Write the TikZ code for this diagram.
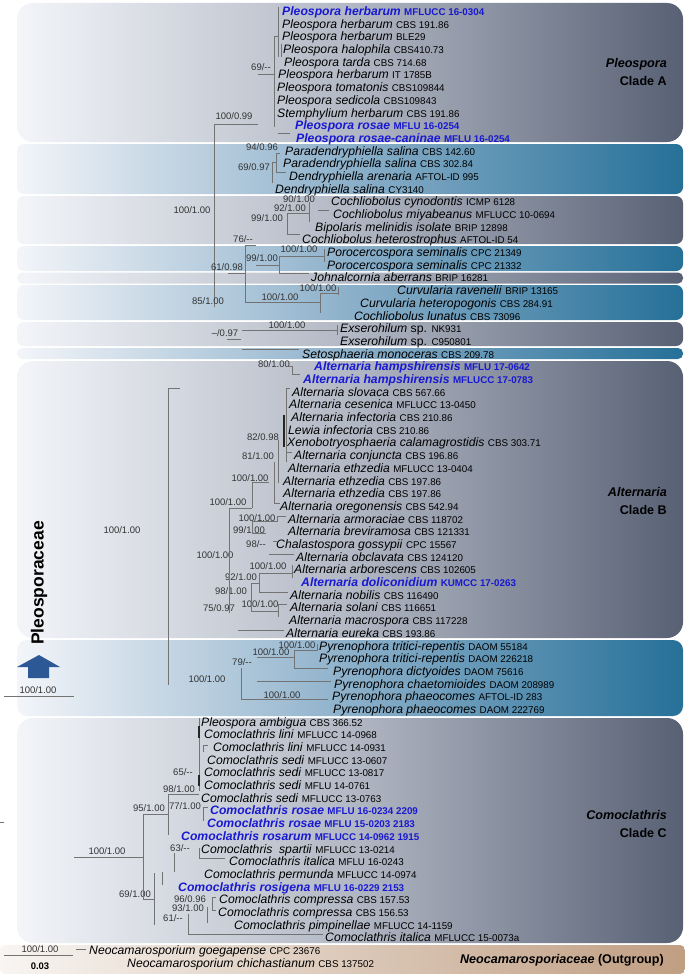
\documentclass[tikz,border=0pt]{standalone}
\usepackage{fontspec}
\setmainfont{Liberation Sans}

\definecolor{boxlight}{RGB}{243,245,249}
\definecolor{graymid}{RGB}{178,184,196}
\definecolor{graydark}{RGB}{88,96,116}
\definecolor{bluemid}{RGB}{140,176,202}
\definecolor{bluedark}{RGB}{38,112,152}
\definecolor{outlight}{RGB}{248,245,242}
\definecolor{outdark}{RGB}{192,158,130}
\definecolor{hilite}{RGB}{25,25,210}
\definecolor{arrowblue}{RGB}{45,88,150}

\newcommand{\codefont}{\fontsize{9.8}{10}\selectfont}
\newcommand{\taxa}[2]{\textit{#1} {\codefont #2}}
\newcommand{\taxab}[2]{{\color{hilite}\bfseries\textit{#1} {\codefont #2}}}

\tikzset{
  taxon/.style={anchor=west, inner sep=0pt, text height=9pt, text depth=0pt,
                font=\fontsize{12.2}{13}\selectfont},
  supp/.style={inner sep=0pt, text height=7pt, text depth=0pt,
               font=\fontsize{9.5}{10}\selectfont, text=black!80},
  cladelab/.style={anchor=east, inner sep=0pt, text height=9pt, text depth=0pt,
                   font=\fontsize{12.6}{13}\selectfont\bfseries},
  branch/.style={draw=black!55, line width=0.8pt},
  darkbranch/.style={draw=black!85, line width=1.1pt},
  gbox/.style={rounded corners=7pt, left color=boxlight, right color=graydark, middle color=graymid},
  bbox/.style={rounded corners=7pt, left color=boxlight, right color=bluedark, middle color=bluemid},
  obox/.style={rounded corners=5pt, left color=outlight, right color=outdark},
}

\begin{document}
\begin{tikzpicture}[x=1pt,y=-1pt]
\def\rh{12.69} % row height
\def\ro{11} % y of first row

\fill[white] (0,0) rectangle (685,974);
\useasboundingbox (0,0) rectangle (685,974);

% clade backgrounds
\path[gbox, rounded corners=16pt] (17,3) rectangle (683,142);
\path[bbox] (17,144) rectangle (683,194);
\path[gbox] (17,196) rectangle (683,244);
\path[bbox] (17,246) rectangle (683,271);
\path[gbox, rounded corners=5pt] (17,272.5) rectangle (683,283.5);
\path[bbox] (17,285) rectangle (683,320);
\path[gbox] (17,322) rectangle (683,346);
\path[bbox, rounded corners=5pt] (17,348) rectangle (683,359);
\path[gbox, rounded corners=16pt] (17,361) rectangle (683,638);
\path[bbox, rounded corners=10pt] (17,640) rectangle (683,716);
\path[gbox, rounded corners=16pt] (17,718) rectangle (683,943);
\path[obox] (0,945) rectangle (685,974);

% Pleospora, clade A
\node[taxon] (t0) at (282,{\ro+0*\rh}) {\taxab{Pleospora herbarum}{MFLUCC 16-0304}};
\node[taxon] (t1) at (282,{\ro+1*\rh}) {\taxa{Pleospora herbarum}{CBS 191.86}};
\node[taxon] (t2) at (282,{\ro+2*\rh}) {\taxa{Pleospora herbarum}{BLE29}};
\node[taxon] (t3) at (283,{\ro+3*\rh}) {\taxa{Pleospora halophila}{CBS410.73}};
\node[taxon] (t4) at (284,{\ro+4*\rh}) {\taxa{Pleospora tarda}{CBS 714.68}};
\node[taxon] (t5) at (278,{\ro+5*\rh}) {\taxa{Pleospora herbarum}{IT 1785B}};
\node[taxon] (t6) at (277,{\ro+6*\rh}) {\taxa{Pleospora tomatonis}{CBS109844}};
\node[taxon] (t7) at (277,{\ro+7*\rh}) {\taxa{Pleospora sedicola}{CBS109843}};
\node[taxon] (t8) at (277,{\ro+8*\rh}) {\taxa{Stemphylium herbarum}{CBS 191.86}};
\node[taxon] (t9) at (295,{\ro+9*\rh}) {\taxab{Pleospora rosae}{MFLU 16-0254}};
\node[taxon] (t10) at (296,{\ro+10*\rh}) {\taxab{Pleospora rosae-caninae}{MFLU 16-0254}};
\node[supp] (s1) at (261,67) {69/-{}-};
\node[supp] (s2) at (234,116) {100/0.99};
\node[cladelab] (la1) at (667,63) {\textit{Pleospora}};
\node[cladelab] (la2) at (667,81) {Clade A};

\coordinate (a1) at (278,7);
\coordinate (a2) at (278,57);
\coordinate (a3) at (281,44);
\coordinate (a4) at (281,57);
\coordinate (a5) at (274,36);
\coordinate (a6) at (274,127);
\coordinate (a7) at (258,74);
\coordinate (a8) at (214,124);
\coordinate (a9) at (258,124);
\coordinate (a10) at (278,133);
\coordinate (a11) at (290,133);
\coordinate (a12) at (214,307);
\draw[branch] (a1) -- (a2) (a3) -- (a4) (a5) -- (a6) (a5) -- (a5 -| a1)
  (a7) -- (a7 -| a5) (a8) -- (a9) (a10) -- (a11) (a8) -- (a12);

% Paradendryphiella
\node[taxon] (t11) at (285,{\ro+11*\rh}) {\taxa{Paradendryphiella salina}{CBS 142.60}};
\node[taxon] (t12) at (283,{\ro+12*\rh}) {\taxa{Paradendryphiella salina}{CBS 302.84}};
\node[taxon] (t13) at (289,{\ro+13*\rh}) {\taxa{Dendryphiella arenaria}{AFTOL-ID 995}};
\node[taxon] (t14) at (275,{\ro+14*\rh}) {\taxa{Dendryphiella salina}{CY3140}};
\node[supp] (s3) at (262,147) {94/0.96};
\node[supp] (s4) at (254,167) {69/0.97};
\coordinate (p1) at (276,153);
\coordinate (p2) at (276,172);
\coordinate (p3) at (280,153);
\coordinate (p4) at (286,172);
\coordinate (p5) at (272,162);
\coordinate (p6) at (272,183);
\draw[branch] (p1) -- (p3) (p1) -- (p2) (p2) -- (p4) (p5) -- (p6) (p5) -- (p5 -| p1);

% Cochliobolus
\node[taxon] (t15) at (331,{\ro+15*\rh}) {\taxa{Cochliobolus cynodontis}{ICMP 6128}};
\node[taxon] (t16) at (333,{\ro+16*\rh}) {\taxa{Cochliobolus miyabeanus}{MFLUCC 10-0694}};
\node[taxon] (t17) at (315,{\ro+17*\rh}) {\taxa{Bipolaris melinidis isolate}{BRIP 12898}};
\node[taxon] (t18) at (302,{\ro+18*\rh}) {\taxa{Cochliobolus heterostrophus}{AFTOL-ID 54}};
\node[supp] (s5) at (299,199) {90/1.00};
\node[supp] (s6) at (290,208) {92/1.00};
\node[supp] (s7) at (267,218) {99/1.00};
\node[supp] (s8) at (192,210) {100/1.00};
\coordinate (c1) at (309,202);
\coordinate (c2) at (309,222);
\coordinate (c3) at (287,213);
\coordinate (c4) at (287,234);
\coordinate (c5) at (300,234);
\coordinate (c6) at (318,210);
\coordinate (c7) at (329,210);
\draw[branch] (c1) -- (c2) (c3) -- (c3 -| c1) (c3) -- (c4) (c4) -- (c5) (c6) -- (c7);

% Porocercospora, Johnalcornia, Curvularia
\node[taxon] (t19) at (327,{\ro+19*\rh}) {\taxa{Porocercospora seminalis}{CPC 21349}};
\node[taxon] (t20) at (327,{\ro+20*\rh}) {\taxa{Porocercospora seminalis}{CPC 21332}};
\node[taxon] (t21) at (311,{\ro+21*\rh}) {\taxa{Johnalcornia aberrans}{BRIP 16281}};
\node[taxon] (t22) at (397,{\ro+22*\rh}) {\taxa{Curvularia ravenelii}{BRIP 13165}};
\node[taxon] (t23) at (360,{\ro+23*\rh}) {\taxa{Curvularia heteropogonis}{CBS 284.91}};
\node[taxon] (t24) at (354,{\ro+24*\rh}) {\taxa{Cochliobolus lunatus}{CBS 73096}};
\node[supp] (s9) at (243,239) {76/-{}-};
\node[supp] (s10) at (299,249) {100/1.00};
\node[supp] (s11) at (262,258) {99/1.00};
\node[supp] (s12) at (227,267) {61/0.98};
\node[supp] (s13) at (318,287.5) {100/1.00};
\node[supp] (s14) at (280,297) {100/1.00};
\node[supp] (s15) at (208,301) {85/1.00};
\coordinate (r1) at (245,245);
\coordinate (r2) at (256,245);
\coordinate (r3) at (245,302);
\coordinate (r4) at (279,256);
\coordinate (r5) at (324,256);
\coordinate (r6) at (324,249);
\coordinate (r7) at (324,262);
\coordinate (r8) at (279,273);
\coordinate (r9) at (309,273);
\coordinate (r10) at (256,265);
\coordinate (r11) at (228,273);
\coordinate (u1) at (320,293);
\coordinate (u2) at (338,293);
\coordinate (u3) at (338,287);
\coordinate (u4) at (338,295);
\coordinate (u5) at (320,313);
\draw[branch] (r1) -- (r2) (r1) -- (r3) (r4) -- (r5) (r6) -- (r7) (r4) -- (r8) (r8) -- (r9)
  (r10) -- (r10 -| r4) (r11) -- (r11 -| r1);
\draw[branch] (u1) -- (u2) (u3) -- (u4) (u1) -- (u5) (r3) -- (r3 -| u1);

% Exserohilum, Setosphaeria
\node[taxon] (t25) at (340,{\ro+25*\rh}) {\textit{Exserohilum} sp. {\codefont NK931}};
\node[taxon] (t26) at (340,{\ro+26*\rh}) {\textit{Exserohilum} sp. {\codefont C950801}};
\node[taxon] (t27) at (302,{\ro+27*\rh}) {\taxa{Setosphaeria monoceras}{CBS 209.78}};
\node[supp] (s16) at (287,325) {100/1.00};
\node[supp] (s17) at (225,333) {--/0.97};
\coordinate (e1) at (242,330);
\coordinate (e2) at (337,330);
\coordinate (e3) at (337,325);
\coordinate (e4) at (337,335);
\coordinate (e5) at (227,339);
\coordinate (e6) at (241,339);
\coordinate (e7) at (242,349);
\coordinate (e8) at (299,349);
\draw[branch] (e1) -- (e2) (e3) -- (e4) (e5) -- (e6) (e7) -- (e8);

% Alternaria, clade B
\node[taxon] (t28) at (314,{\ro+28*\rh}) {\taxab{Alternaria hampshirensis}{MFLU 17-0642}};
\node[taxon] (t29) at (303,{\ro+29*\rh}) {\taxab{Alternaria hampshirensis}{MFLUCC 17-0783}};
\node[taxon] (t30) at (292,{\ro+30*\rh}) {\taxa{Alternaria slovaca}{CBS 567.66}};
\node[taxon] (t31) at (289,{\ro+31*\rh}) {\taxa{Alternaria cesenica}{MFLUCC 13-0450}};
\node[taxon] (t32) at (291,{\ro+32*\rh}) {\taxa{Alternaria infectoria}{CBS 210.86}};
\node[taxon] (t33) at (288,{\ro+33*\rh}) {\taxa{Lewia infectoria}{CBS 210.86}};
\node[taxon] (t34) at (287,{\ro+34*\rh}) {\taxa{Xenobotryosphaeria calamagrostidis}{CBS 303.71}};
\node[taxon] (t35) at (294,{\ro+35*\rh}) {\taxa{Alternaria conjuncta}{CBS 196.86}};
\node[taxon] (t36) at (288,{\ro+36*\rh}) {\taxa{Alternaria ethzedia}{MFLUCC 13-0404}};
\node[taxon] (t37) at (283,{\ro+37*\rh}) {\taxa{Alternaria ethzedia}{CBS 197.86}};
\node[taxon] (t38) at (283,{\ro+38*\rh}) {\taxa{Alternaria ethzedia}{CBS 197.86}};
\node[taxon] (t39) at (280,{\ro+39*\rh}) {\taxa{Alternaria oregonensis}{CBS 542.94}};
\node[taxon] (t40) at (288,{\ro+40*\rh}) {\taxa{Alternaria armoraciae}{CBS 118702}};
\node[taxon] (t41) at (288,{\ro+41*\rh}) {\taxa{Alternaria breviramosa}{CBS 121331}};
\node[taxon] (t42) at (276,{\ro+42*\rh}) {\taxa{Chalastospora gossypii}{CPC 15567}};
\node[taxon] (t43) at (296,{\ro+43*\rh}) {\taxa{Alternaria obclavata}{CBS 124120}};
\node[taxon] (t44) at (294,{\ro+44*\rh}) {\taxa{Alternaria arborescens}{CBS 102605}};
\node[taxon] (t45) at (301,{\ro+45*\rh}) {\taxab{Alternaria doliconidium}{KUMCC 17-0263}};
\node[taxon] (t46) at (290,{\ro+46*\rh}) {\taxa{Alternaria nobilis}{CBS 116490}};
\node[taxon] (t47) at (290,{\ro+47*\rh}) {\taxa{Alternaria solani}{CBS 116651}};
\node[taxon] (t48) at (289,{\ro+48*\rh}) {\taxa{Alternaria macrospora}{CBS 117228}};
\node[taxon] (t49) at (286,{\ro+49*\rh}) {\taxa{Alternaria eureka}{CBS 193.86}};
\node[supp] (s18) at (274,364) {80/1.00};
\node[supp] (s19) at (122,530) {100/1.00};
\node[supp] (s20) at (263,437) {82/0.98};
\node[supp] (s21) at (258,456) {81/1.00};
\node[supp] (s22) at (250,478) {100/1.00};
\node[supp] (s23) at (228,502) {100/1.00};
\node[supp] (s24) at (257,518) {100/1.00};
\node[supp] (s25) at (249,530) {99/1.00};
\node[supp] (s26) at (256,544) {98/-{}-};
\node[supp] (s27) at (215,555) {100/1.00};
\node[supp] (s28) at (268,566) {100/1.00};
\node[supp] (s29) at (241,577) {92/1.00};
\node[supp] (s30) at (231,591) {98/1.00};
\node[supp] (s31) at (219,608) {75/0.97};
\node[supp] (s32) at (260,604) {100/1.00};
\node[cladelab] (lb1) at (667,492) {\textit{Alternaria}};
\node[cladelab] (lb2) at (667,510) {Clade B};

\coordinate (h1) at (287,366);
\coordinate (h2) at (292,366);
\coordinate (h3) at (292,374);
\coordinate (h4) at (300,374);
\draw[branch] (h1) -- (h2) -- (h3) -- (h4);

\coordinate (x1) at (168,388);
\coordinate (x2) at (168,685);
\coordinate (x3) at (180,388);
\coordinate (x4) at (286,388);
\coordinate (x5) at (286,462);
\coordinate (x6) at (290,388);
\coordinate (x7) at (286,452);
\coordinate (x8) at (292,452);
\coordinate (x9) at (284,415);
\coordinate (x10) at (284,447);
\coordinate (x11) at (278,440);
\coordinate (x12) at (278,483);
\coordinate (x13) at (274,462);
\coordinate (x14) at (274,503);
\coordinate (x15) at (280,503);
\coordinate (x16) at (252,482);
\coordinate (x17) at (269,482);
\coordinate (x18) at (252,508);
\coordinate (x19) at (229,508);
\coordinate (x20) at (229,613);
\draw[branch] (x1) -- (x2) (x1) -- (x3) (x4) -- (x5) (x4) -- (x6) (x7) -- (x8)
  (x11) -- (x12) (x13) -- (x14) (x14) -- (x15) (x16) -- (x17) (x16) -- (x18)
  (x19) -- (x18) (x19) -- (x20);
\draw[darkbranch] (x9) -- (x10);

\coordinate (x21) at (252,521);
\coordinate (x22) at (277,521);
\coordinate (x23) at (277,516);
\coordinate (x24) at (286,516);
\coordinate (x25) at (252,533);
\coordinate (x26) at (266,533);
\coordinate (x27) at (273,541);
\coordinate (x28) at (277,541);
\coordinate (x29) at (269,554);
\coordinate (x30) at (294,554);
\draw[branch] (x21) -- (x22) -- (x23) -- (x24) (x21) -- (x25) -- (x26) (x27) -- (x28) (x29) -- (x30);

\coordinate (x31) at (292,565);
\coordinate (x32) at (292,578);
\coordinate (x33) at (259,573);
\coordinate (x34) at (259,592);
\coordinate (x35) at (288,592);
\coordinate (x36) at (251,583);
\coordinate (x37) at (251,611);
\coordinate (x38) at (278,604);
\coordinate (x39) at (287,604);
\coordinate (x40) at (278,617);
\coordinate (x41) at (238,630);
\coordinate (x42) at (284,630);
\draw[branch] (x31) -- (x32) (x33) -- (x33 -| x31) (x33) -- (x34) -- (x35)
  (x36) -- (x36 -| x33) (x36) -- (x37) (x37) -- (x37 -| x38)
  (x38) -- (x39) (x38) -- (x40) (x41) -- (x42);

% Pyrenophora
\node[taxon] (t50) at (319,{\ro+50*\rh}) {\taxa{Pyrenophora tritici-repentis}{DAOM 55184}};
\node[taxon] (t51) at (319,{\ro+51*\rh}) {\taxa{Pyrenophora tritici-repentis}{DAOM 226218}};
\node[taxon] (t52) at (333,{\ro+52*\rh}) {\taxa{Pyrenophora dictyoides}{DAOM 75616}};
\node[taxon] (t53) at (334,{\ro+53*\rh}) {\taxa{Pyrenophora chaetomioides}{DAOM 208989}};
\node[taxon] (t54) at (332,{\ro+54*\rh}) {\taxa{Pyrenophora phaeocomes}{AFTOL-ID 283}};
\node[taxon] (t55) at (333,{\ro+55*\rh}) {\taxa{Pyrenophora phaeocomes}{DAOM 222769}};
\node[supp] (s33) at (297,645) {100/1.00};
\node[supp] (s34) at (271,652) {100/1.00};
\node[supp] (s35) at (242,662) {79/-{}-};
\node[supp] (s36) at (207,679) {100/1.00};
\node[supp] (s37) at (282,695) {100/1.00};
\coordinate (y1) at (317,644);
\coordinate (y2) at (317,651);
\coordinate (y3) at (294,650);
\coordinate (y4) at (294,668);
\coordinate (y5) at (328,668);
\coordinate (y6) at (257,657);
\coordinate (y7) at (257,681);
\coordinate (y8) at (331,681);
\coordinate (y9) at (241,668);
\coordinate (y10) at (241,699);
\coordinate (y11) at (328,699);
\draw[branch] (y1) -- (y2) (y3) -- (y3 -| y1) (y3) -- (y4) -- (y5) (y6) -- (y6 -| y3)
  (y7) -- (y8) (y9) -- (y10) -- (y11);

% Pleosporaceae
\node[font=\fontsize{17.5}{18}\selectfont\bfseries, rotate=90, inner sep=0pt] (fam) at (39,583) {Pleosporaceae};
\fill[arrowblue] (17,667) -- (39,655) -- (60,667) -- (49,667) -- (49,678) -- (28,678) -- (28,667) -- cycle;
\node[supp] (s38) at (38,690) {100/1.00};
\coordinate (k1) at (4,696);
\coordinate (k2) at (74,696);
\draw[branch] (k1) -- (k2);

% Comoclathris, clade C
\node[taxon] (t56) at (201,{\ro+56*\rh}) {\taxa{Pleospora ambigua}{CBS 366.52}};
\node[taxon] (t57) at (204,{\ro+57*\rh}) {\taxa{Comoclathris lini}{MFLUCC 14-0968}};
\node[taxon] (t58) at (213,{\ro+58*\rh}) {\taxa{Comoclathris lini}{MFLUCC 14-0931}};
\node[taxon] (t59) at (207,{\ro+59*\rh}) {\taxa{Comoclathris sedi}{MFLUCC 13-0607}};
\node[taxon] (t60) at (204,{\ro+60*\rh}) {\taxa{Comoclathris sedi}{MFLUCC 13-0817}};
\node[taxon] (t61) at (204,{\ro+61*\rh}) {\taxa{Comoclathris sedi}{MFLU 14-0761}};
\node[taxon] (t62) at (201,{\ro+62*\rh}) {\taxa{Comoclathris sedi}{MFLUCC 13-0763}};
\node[taxon] (t63) at (210,{\ro+63*\rh}) {\taxab{Comoclathris rosae}{MFLU 16-0234 2209}};
\node[taxon] (t64) at (207,{\ro+64*\rh}) {\taxab{Comoclathris rosae}{MFLU 15-0203 2183}};
\node[taxon] (t65) at (181,{\ro+65*\rh}) {\taxab{Comoclathris rosarum}{MFLUCC 14-0962 1915}};
\node[taxon] (t66) at (201,{\ro+66*\rh}) {\taxa{Comoclathris\ \ spartii}{MFLUCC 13-0214}};
\node[taxon] (t67) at (229,{\ro+67*\rh}) {\taxa{Comoclathris italica}{MFLU 16-0243}};
\node[taxon] (t68) at (204,{\ro+68*\rh}) {\taxa{Comoclathris permunda}{MFLUCC 14-0974}};
\node[taxon] (t69) at (178,{\ro+69*\rh}) {\taxab{Comoclathris rosigena}{MFLU 16-0229 2153}};
\node[taxon] (t70) at (219,{\ro+70*\rh}) {\taxa{Comoclathris compressa}{CBS 157.53}};
\node[taxon] (t71) at (218,{\ro+71*\rh}) {\taxa{Comoclathris compressa}{CBS 156.53}};
\node[taxon] (t72) at (234,{\ro+72*\rh}) {\taxa{Comoclathris pimpinellae}{MFLUCC 14-1159}};
\node[taxon] (t73) at (325,{\ro+73*\rh}) {\taxa{Comoclathris italica}{MFLUCC 15-0073a}};
\node[supp] (s39) at (183,772) {65/-{}-};
\node[supp] (s40) at (179,789) {98/1.00};
\node[supp] (s41) at (185,806) {77/1.00};
\node[supp] (s42) at (149,808) {95/1.00};
\node[supp] (s43) at (107,851) {100/1.00};
\node[supp] (s44) at (180,848) {63/-{}-};
\node[supp] (s45) at (135,894) {69/1.00};
\node[supp] (s46) at (190,899) {96/0.96};
\node[supp] (s47) at (188,908) {93/1.00};
\node[supp] (s48) at (173,918) {61/-{}-};
\node[cladelab] (lc1) at (667,815) {\textit{Comoclathris}};
\node[cladelab] (lc2) at (667,833) {Clade C};

\coordinate (m1) at (199,718);
\coordinate (m2) at (199,791);
\coordinate (m3) at (199,726);
\coordinate (m4) at (199,738);
\coordinate (m5) at (199,775);
\coordinate (m6) at (199,786);
\coordinate (m7) at (203,745);
\coordinate (m8) at (208,745);
\coordinate (m9) at (203,752);
\coordinate (m10) at (168,794);
\coordinate (m11) at (168,835);
\coordinate (m12) at (203,807);
\coordinate (m13) at (208,807);
\coordinate (m14) at (203,821);
\coordinate (m15) at (143,814);
\coordinate (m16) at (143,900);
\coordinate (m17) at (74,857);
\draw[branch] (m1) -- (m2) (m7) -- (m8) (m7) -- (m9) (m10) -- (m10 -| m1) (m10) -- (m11)
  (m12) -- (m13) (m12) -- (m14) (m15) -- (m15 -| m10) (m15) -- (m16) (m17) -- (m17 -| m15);
\draw[darkbranch] (m3) -- (m4) (m5) -- (m6);

\coordinate (m18) at (174,853);
\coordinate (m19) at (174,872);
\coordinate (m20) at (199,848);
\coordinate (m21) at (199,858);
\coordinate (m22) at (225,858);
\coordinate (m23) at (162,872);
\coordinate (m24) at (162,885);
\coordinate (m25) at (154,873);
\coordinate (m26) at (154,925);
\coordinate (m27) at (143,899);
\coordinate (m28) at (212,897);
\coordinate (m29) at (212,910);
\coordinate (m30) at (216,897);
\coordinate (m31) at (216,910);
\coordinate (m32) at (207,907);
\coordinate (m33) at (207,923);
\coordinate (m34) at (188,914);
\coordinate (m35) at (188,934);
\coordinate (m36) at (323,934);
\draw[branch] (m18) -- (m19) (m20) -- (m21) -- (m22) (m23) -- (m24) (m25) -- (m26)
  (m27) -- (m27 -| m25) (m30) -- (m28) -- (m29) -- (m31) (m32) -- (m33)
  (m34) -- (m35) -- (m36);

% Neocamarosporiaceae, outgroup
\node[taxon] (t74) at (89,{\ro+74*\rh}) {\taxa{Neocamarosporium goegapense}{CPC 23676}};
\node[taxon] (t75) at (127,{\ro+75*\rh}) {\taxa{Neocamarosporium chichastianum}{CBS 137502}};
\node[supp] (s49) at (40,949) {100/1.00};
\node[supp, font=\fontsize{9.5}{10}\selectfont\bfseries, text=black] (s50) at (40,966) {0.03};
\node[cladelab] (lo) at (664,959) {\textit{Neocamarosporiaceae} (Outgroup)};
\coordinate (o1) at (4,955);
\coordinate (o2) at (73,955);
\coordinate (o3) at (76,949);
\coordinate (o4) at (86,949);
\coordinate (d1) at (0,822);
\coordinate (d2) at (4,822);
\draw[branch] (o1) -- (o2) (o3) -- (o4) (d1) -- (d2);

\end{tikzpicture}
\end{document}
